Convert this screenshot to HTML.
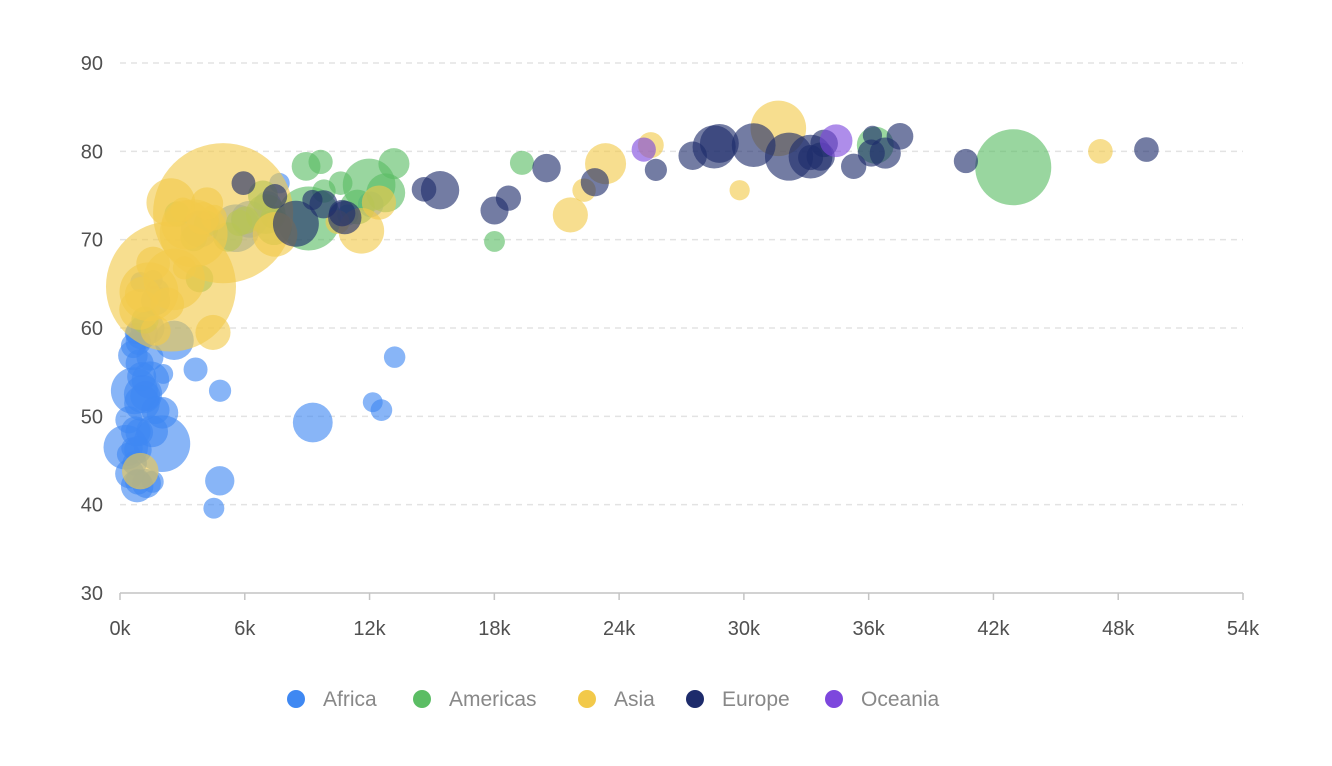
<!DOCTYPE html>
<html><head><meta charset="utf-8"><style>
html,body{margin:0;padding:0;background:#fff;}
svg{display:block;font-family:"Liberation Sans",sans-serif;}
</style></head><body>
<svg id="chart" width="1332" height="766"></svg>
<script>
const continents = ["Africa","Americas","Asia","Europe","Oceania"];
const colors = ["#3f88f2","#5bbd64","#f2c94a","#1d2b6b","#7d47dd"];
const xTicks = [0,6000,12000,18000,24000,30000,36000,42000,48000,54000];
const xTickLabels = ["0k","6k","12k","18k","24k","30k","36k","42k","48k","54k"];
const yTicks = [30,40,50,60,70,80,90];
const countries = ["Afghanistan","Albania","Algeria","Angola","Argentina","Australia","Austria","Bahrain","Bangladesh","Belgium","Benin","Bolivia","Bosnia","Botswana","Brazil","Bulgaria","Burkina Faso","Burundi","Cambodia","Cameroon","Canada","CAR","Chad","Chile","China","Colombia","Comoros","Congo DR","Congo Rep","Costa Rica","Cote d'Ivoire","Croatia","Cuba","Czech Rep","Denmark","Djibouti","Dominican Rep","Ecuador","Egypt","El Salvador","Eq Guinea","Eritrea","Ethiopia","Finland","France","Gabon","Gambia","Germany","Ghana","Greece","Guatemala","Guinea","Guinea-Bissau","Haiti","Honduras","Hungary","Iceland","India","Indonesia","Iran","Iraq","Ireland","Israel","Italy","Jamaica","Japan","Jordan","Kenya","Korea DPR","Korea Rep","Lebanon","Lesotho","Liberia","Libya","Madagascar","Malawi","Malaysia","Mali","Mauritania","Mauritius","Mexico","Mongolia","Montenegro","Morocco","Mozambique","Myanmar","Namibia","Nepal","Netherlands","New Zealand","Nicaragua","Niger","Nigeria","Norway","Oman","Pakistan","Panama","Paraguay","Peru","Philippines","Poland","Portugal","Puerto Rico","Reunion","Romania","Rwanda","Sao Tome","Saudi Arabia","Senegal","Serbia","Sierra Leone","Singapore","Slovakia","Slovenia","Somalia","South Africa","Spain","Sri Lanka","Sudan","Swaziland","Sweden","Switzerland","Syria","Tanzania","Thailand","Togo","Trinidad","Tunisia","Turkey","Uganda","UK","US","Uruguay","Venezuela","Vietnam","West Bank","Yemen","Zambia","Zimbabwe"];
const continentIdx = [2,3,0,0,1,4,3,2,2,3,0,1,3,0,1,3,0,0,2,0,1,0,0,1,2,1,0,0,0,1,0,3,1,3,3,0,1,1,0,1,0,0,0,3,3,0,0,3,0,3,1,0,0,1,1,3,3,2,2,2,2,3,2,3,1,2,2,0,2,2,2,0,0,0,0,0,2,0,0,0,1,2,3,0,0,2,0,2,3,4,1,0,0,3,2,2,1,1,1,2,3,3,1,0,3,0,0,2,0,3,0,2,3,3,0,0,3,2,0,0,3,3,2,0,2,0,1,0,3,0,3,1,1,1,2,2,2,0,0];
const gdp = [975,5937,6223,4797,12779,34435,36126,29796,1391,33693,1441,3822,7446,12570,9066,10681,1217,430,1714,2042,36319,706,1704,13172,4959,7007,986,278,3633,9645,1545,14619,8948,22833,35278,2082,6025,6873,5581,5728,12154,641,691,33207,30470,13206,753,32170,1327,27538,5186,943,579,1202,3548,18009,36181,2452,3541,11606,4471,40676,25523,28570,7321,31656,4519,1463,1593,23348,10461,1569,415,12057,1045,759,12452,1043,1803,10957,11978,3096,9254,3820,824,944,4811,1091,36798,25185,2749,619,2014,49357,22316,2606,9809,4173,7409,3190,15390,20510,19329,7670,10808,863,1598,21655,1712,9787,863,47143,18678,25768,926,9270,28821,3970,2602,4513,33860,37506,4185,1107,7458,883,18008,7093,8458,1056,33203,42952,10611,11416,2442,3025,2281,1271,470];
const lifeExp = [43.8,76.4,72.3,42.7,75.3,81.2,79.8,75.6,64.1,79.4,56.7,65.6,74.9,50.7,72.4,73.0,52.3,49.6,59.7,50.4,80.7,44.7,50.7,78.6,73.0,72.9,65.2,46.5,55.3,78.8,48.3,75.7,78.3,76.5,78.3,54.8,72.2,75.0,71.3,71.9,51.6,58.0,52.9,79.3,80.7,56.7,59.4,79.4,60.0,79.5,70.3,56.0,46.4,60.9,70.2,73.3,81.8,64.7,70.7,71.0,59.5,78.9,80.7,80.5,72.6,82.6,72.5,54.1,67.3,78.6,72.0,42.6,45.7,74.0,59.4,48.3,74.2,54.5,64.2,72.8,76.2,66.8,74.5,71.2,42.1,62.1,52.9,63.8,79.8,80.2,72.9,56.9,46.9,80.2,75.6,65.5,75.5,71.8,71.4,71.7,75.6,78.1,78.7,76.4,72.5,46.2,65.5,72.8,63.1,74.0,42.6,80.0,74.7,77.9,48.2,49.3,80.9,72.4,58.6,39.6,80.9,81.7,74.1,52.5,70.6,58.4,69.8,73.9,71.8,51.5,79.4,78.2,76.4,73.7,74.2,73.4,62.7,42.4,43.5];
const popM = [31.9,3.6,33.3,12.4,40.3,20.4,8.2,0.7,150.4,10.4,8.1,9.1,4.6,1.6,190.0,7.3,14.3,8.4,14.1,17.7,33.4,4.4,10.2,16.3,1318.7,44.2,0.7,64.6,3.8,4.1,18.0,4.5,11.4,10.2,5.5,0.5,9.3,13.8,80.3,6.9,0.55,4.9,76.5,5.2,61.1,1.45,1.7,82.4,22.9,10.7,12.6,9.9,1.5,8.5,7.5,10.0,0.3,1110.4,223.5,69.5,27.5,4.1,6.4,58.1,2.8,127.5,6.1,35.6,23.3,49.0,3.9,2.0,3.2,6.0,19.2,13.3,24.8,12.0,3.3,1.25,108.7,2.9,0.68,33.8,20.0,47.8,2.06,28.9,16.6,4.1,5.7,12.9,135.0,4.6,3.2,169.3,3.2,6.7,28.7,91.1,38.5,10.6,3.9,0.8,22.3,8.9,0.2,27.6,12.3,10.2,6.1,4.55,5.4,2.0,9.1,44.0,40.4,20.4,42.3,1.1,9.0,7.55,19.3,38.1,65.1,5.7,1.06,10.3,71.2,29.2,60.8,301.1,3.4,26.1,85.3,4.0,22.2,11.7,12.3];

const NS="http://www.w3.org/2000/svg";
const svg=document.getElementById('chart');
const L=120,R=1243,T=63,B=593;
const xS=v=>L+(v-0)/(54000)*(R-L);
const yS=v=>B-(v-30)/(60)*(B-T);
const rS=p=>8.7+1.69*Math.sqrt(p);
function mk(tag,attrs,parent){const e=document.createElementNS(NS,tag);for(const k in attrs)e.setAttribute(k,attrs[k]);(parent||svg).appendChild(e);return e;}

yTicks.forEach((t,i)=>{
  if(t>30){
    const g=mk('line',{x1:L,x2:R,y1:yS(t),y2:yS(t),stroke:'#e3e3e3','stroke-width':1.5,'stroke-dasharray':'6,5'});
    
    
  }
  const tx=mk('text',{x:103,y:yS(t)+7,'text-anchor':'end','font-size':20,fill:'#505050'});
  tx.textContent=t;
  
  
});
const ax=mk('line',{x1:L,x2:R,y1:B,y2:B,stroke:'#c4c4c4','stroke-width':1.5});


xTicks.forEach((t,i)=>{
  const tk=mk('line',{x1:xS(t),x2:xS(t),y1:B,y2:B+7,stroke:'#c4c4c4','stroke-width':1.5});
  
  
  const tx=mk('text',{x:xS(t),y:635,'text-anchor':'middle','font-size':20,fill:'#505050'});
  tx.textContent=xTickLabels[i];
  
  
});
const gB=mk('g',{});


continents.forEach((cn,k)=>{
  countries.forEach((c,i)=>{
    if(continentIdx[i]!==k) return;
    const ci=mk('circle',{cx:xS(gdp[i]),cy:yS(lifeExp[i]),r:rS(popM[i]),fill:colors[continentIdx[i]],'fill-opacity':0.62},gB);
    
    
  });
});
const legX=[296,422,587,695,834];
const gL=mk('g',{});


continents.forEach((c,i)=>{
  const d=mk('circle',{cx:legX[i],cy:699,r:9,fill:colors[i]},gL);
  
  
  const t=mk('text',{x:legX[i]+27,y:706,'font-size':21,fill:'#888'},gL);
  t.textContent=c;
  
  
});
</script>
</body></html>
